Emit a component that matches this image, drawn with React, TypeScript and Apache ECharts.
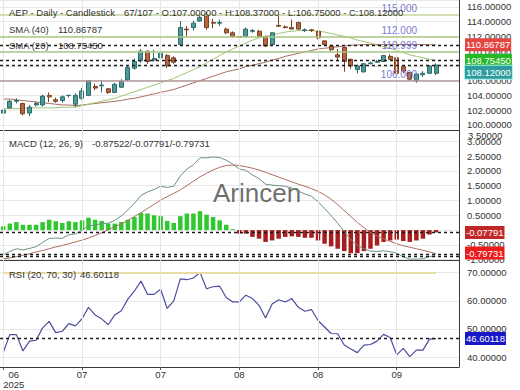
import React, { useEffect, useRef } from "react";
import * as echarts from "echarts";

const dates: string[] = [
  "2025-06-13", "2025-06-16", "2025-06-17", "2025-06-18", "2025-06-20", "2025-06-23", "2025-06-24", "2025-06-25", "2025-06-26", "2025-06-27",
  "2025-06-30", "2025-07-01", "2025-07-02", "2025-07-03", "2025-07-07", "2025-07-08", "2025-07-09", "2025-07-10", "2025-07-11", "2025-07-14",
  "2025-07-15", "2025-07-16", "2025-07-17", "2025-07-18", "2025-07-21", "2025-07-22", "2025-07-23", "2025-07-24", "2025-07-25", "2025-07-28",
  "2025-07-29", "2025-07-30", "2025-07-31", "2025-08-01", "2025-08-04", "2025-08-05", "2025-08-06", "2025-08-07", "2025-08-08", "2025-08-11",
  "2025-08-12", "2025-08-13", "2025-08-14", "2025-08-15", "2025-08-18", "2025-08-19", "2025-08-20", "2025-08-21", "2025-08-22", "2025-08-25",
  "2025-08-26", "2025-08-27", "2025-08-28", "2025-08-29", "2025-09-02", "2025-09-03", "2025-09-04", "2025-09-05", "2025-09-08", "2025-09-09",
  "2025-09-10", "2025-09-11", "2025-09-12", "2025-09-15", "2025-09-16", "2025-09-17", "2025-09-18",
];
const emptySlots: string[] = ["2025-09-19", "2025-09-22", "2025-09-23"];

const opens = [
  101.6, 102.3, 103.2, 102.9, 101.6, 102.7, 102.7, 104.0, 103.4, 103.3,
  103.98, 102.8, 103.6, 104.0, 105.2, 105.3, 104.9, 104.4, 105.1, 106.1,
  107.7, 108.7, 110.0, 108.8, 109.1, 109.4, 109.1, 110.9, 113.0, 113.2,
  114.1, 115.0, 113.9, 113.8, 113.0, 112.5, 112.0, 112.0, 112.7, 112.7,
  112.0, 110.9, 113.5, 113.3, 113.2, 113.9, 112.8, 112.9, 112.7, 111.4,
  110.7, 109.5, 110.5, 108.9, 107.5, 107.2, 108.3, 108.5, 108.6, 109.3,
  109.1, 107.9, 107.1, 106.0, 106.8, 107.0, 107.0,
];
const highs = [
  102.4, 103.4, 103.6, 103.0, 102.7, 103.2, 104.1, 104.4, 103.7, 104.0,
  104.05, 104.3, 105.0, 106.1, 105.6, 106.1, 105.0, 105.7, 106.2, 108.1,
  109.0, 110.3, 110.1, 110.2, 110.0, 109.6, 109.3, 114.1, 113.4, 114.1,
  114.9, 115.3, 114.4, 114.3, 113.2, 112.7, 112.1, 113.2, 113.0, 112.9,
  112.1, 112.6, 115.0, 113.5, 114.3, 114.0, 113.1, 113.0, 112.8, 111.5,
  110.9, 110.3, 110.6, 109.0, 108.2, 108.4, 108.6, 108.8, 109.5, 109.6,
  109.2, 108.0, 107.2, 107.0, 107.3, 108.1, 108.37,
];
const lows = [
  101.1, 102.2, 102.9, 101.3, 101.2, 102.5, 102.5, 103.1, 103.0, 103.0,
  103.7, 102.4, 103.4, 103.9, 104.7, 104.4, 104.2, 104.3, 105.0, 105.9,
  107.5, 108.4, 108.3, 108.6, 108.8, 107.7, 108.3, 110.8, 112.0, 112.8,
  114.0, 112.9, 113.1, 113.4, 112.3, 111.8, 111.0, 111.9, 112.5, 111.9,
  110.6, 110.8, 113.3, 113.1, 113.0, 112.9, 112.6, 112.6, 111.6, 110.8,
  110.0, 108.6, 107.2, 107.6, 107.0, 107.1, 108.2, 108.4, 108.5, 108.8,
  106.9, 107.0, 106.0, 105.7, 106.5, 106.9, 106.75,
];
const closes = [
  102.0, 103.2, 103.3, 101.5, 102.4, 102.9, 103.9, 103.8, 103.2, 103.8,
  104.02, 104.0, 104.6, 106.0, 105.0, 105.4, 104.4, 105.5, 105.9, 107.8,
  108.6, 110.0, 108.6, 109.0, 109.7, 108.0, 108.5, 113.2, 112.9, 113.8,
  114.6, 113.2, 113.8, 113.9, 112.5, 112.0, 111.9, 113.0, 112.8, 112.0,
  110.7, 112.5, 113.4, 113.2, 113.0, 113.0, 112.9, 112.8, 111.8, 110.9,
  110.2, 109.2, 108.6, 108.0, 108.0, 108.3, 108.4, 108.6, 109.4, 108.9,
  107.0, 107.3, 106.2, 106.9, 107.0, 108.0, 108.12,
];
const sma40 = [
  103.5, 103.5, 103.4, 103.3, 103.2, 103.1, 103.0, 102.9, 102.8, 102.7,
  102.7, 102.6, 102.7, 102.8, 102.9, 103.0, 103.1, 103.2, 103.3, 103.5,
  103.6, 103.8, 104.0, 104.2, 104.4, 104.6, 104.8, 105.1, 105.4, 105.7,
  106.0, 106.3, 106.6, 106.9, 107.2, 107.4, 107.6, 107.9, 108.1, 108.3,
  108.5, 108.8, 109.0, 109.3, 109.5, 109.7, 109.9, 110.1, 110.3, 110.4,
  110.5, 110.6, 110.7, 110.8, 110.85, 110.9, 110.9, 110.9, 110.9, 110.9,
  110.9, 110.9, 110.9, 110.9, 110.9, 110.88, 110.86787,
];
const sma20 = [
  102.2, 102.2, 102.2, 102.2, 102.3, 102.3, 102.3, 102.3, 102.3, 102.4,
  102.4, 102.4, 102.6, 102.8, 103.0, 103.2, 103.4, 103.6, 103.9, 104.2,
  104.5, 104.8, 105.1, 105.4, 105.7, 106.0, 106.3, 106.7, 107.1, 107.5,
  107.9, 108.4, 108.9, 109.4, 109.9, 110.3, 110.7, 111.1, 111.5, 111.8,
  112.0, 112.2, 112.4, 112.6, 112.7, 112.8, 112.8, 112.8, 112.7, 112.6,
  112.4, 112.2, 112.0, 111.8, 111.5, 111.3, 111.1, 110.8, 110.6, 110.4,
  110.1, 109.8, 109.5, 109.3, 109.1, 108.9, 108.7545,
];
const macdHist = [
  0.13, 0.22, 0.27, 0.18, 0.18, 0.18, 0.27, 0.35, 0.30, 0.24,
  0.30, 0.27, 0.33, 0.42, 0.35, 0.31, 0.22, 0.22, 0.27, 0.35,
  0.44, 0.58, 0.56, 0.50, 0.47, 0.31, 0.24, 0.47, 0.56, 0.56,
  0.64, 0.52, 0.44, 0.33, 0.18, 0.03, -0.12, -0.12, -0.23, -0.29,
  -0.40, -0.35, -0.29, -0.23, -0.21, -0.23, -0.26, -0.26, -0.35, -0.46,
  -0.55, -0.63, -0.71, -0.78, -0.78, -0.71, -0.63, -0.52, -0.40, -0.35,
  -0.32, -0.37, -0.40, -0.35, -0.29, -0.15, -0.07791,
];
const macdSignal = [
  -0.97, -0.94, -0.90, -0.85, -0.80, -0.74, -0.69, -0.63, -0.57, -0.52,
  -0.46, -0.40, -0.34, -0.27, -0.18, -0.09, 0.01, 0.11, 0.21, 0.33,
  0.46, 0.59, 0.73, 0.87, 1.01, 1.13, 1.24, 1.36, 1.50, 1.65,
  1.80, 1.92, 2.03, 2.12, 2.18, 2.20, 2.18, 2.14, 2.09, 2.03,
  1.95, 1.87, 1.79, 1.71, 1.63, 1.55, 1.48, 1.40, 1.31, 1.19,
  1.04, 0.86, 0.66, 0.46, 0.26, 0.08, -0.08, -0.20, -0.30, -0.38,
  -0.46, -0.53, -0.58, -0.63, -0.68, -0.74, -0.79731,
];
const macdLine = [
  -0.84, -0.72, -0.63, -0.67, -0.62, -0.56, -0.42, -0.28, -0.27, -0.28,
  -0.16, -0.13, -0.01, 0.15, 0.17, 0.22, 0.23, 0.33, 0.48, 0.68,
  0.90, 1.17, 1.29, 1.37, 1.48, 1.44, 1.48, 1.83, 2.06, 2.21,
  2.44, 2.44, 2.47, 2.45, 2.36, 2.23, 2.06, 2.02, 1.86, 1.74,
  1.55, 1.52, 1.50, 1.48, 1.42, 1.32, 1.22, 1.14, 0.96, 0.73,
  0.49, 0.23, -0.05, -0.32, -0.52, -0.63, -0.71, -0.72, -0.70, -0.73,
  -0.78, -0.90, -0.98, -0.98, -0.97, -0.89, -0.87522,
];
const rsi = [
  41.7, 48.0, 48.0, 42.2, 45.7, 46.0, 50.4, 52.7, 48.7, 49.2,
  51.9, 51.1, 53.6, 57.7, 55.0, 53.6, 51.5, 55.0, 56.5, 60.6,
  63.5, 67.0, 62.3, 62.3, 64.1, 57.3, 60.0, 67.8, 67.5, 68.1,
  70.1, 64.3, 65.0, 65.2, 61.2, 59.6, 59.6, 62.0, 60.8, 58.4,
  53.9, 58.9, 60.4, 59.6, 60.8, 57.7, 56.3, 56.9, 53.0, 50.7,
  48.4, 48.3, 44.3, 42.9, 41.6, 44.3, 44.5, 45.7, 48.1, 47.0,
  40.8, 43.1, 40.2, 42.5, 42.5, 46.4, 46.60118,
];

const levelValues = [115, 112, 109.95, 106];
const levelTexts = ["115.000", "112.000", "110.999", "106.000"];
const levelTags = ["L1", "L1", "L2", "L3"];
const rsiUpper = 70;
const macdTopTick = "3.50000";
const tickStep = 12;

const levelColors = ["#c4d69d", "#abc985", "#a9c887", "#b39898"];
const FONT = "'Liberation Sans', Arial, sans-serif";

export default function App() {
  const ref = useRef<HTMLDivElement>(null);

  useEffect(() => {
    const el = ref.current;
    if (!el) return;
    const chart = echarts.init(el, null, { renderer: "svg" });
    const cats = dates.concat(emptySlots);
    const n = dates.length;
    const last = n - 1;

    const candleData = dates.map((_, i) => [opens[i], closes[i], lows[i], highs[i]]);
    const vLines = dates
      .map((d, i) => ({ d, i }))
      .filter((o) => o.i % tickStep === 0)
      .map((o) => ({
        xAxis: o.d,
        lineStyle: { color: "#e6e6e6", width: 1, type: "solid" },
        label: { show: false },
      }));
    const dashed = (v: number) => ({
      yAxis: v,
      lineStyle: { color: "#1c1c1c", width: 1.3, type: [3, 3] },
      label: { show: false },
    });

    const levelLines: any[] = [];
    levelValues.forEach((v, k) => {
      levelLines.push({
        yAxis: v,
        lineStyle: { color: levelColors[k], width: 1.6, type: "solid" },
        label: {
          show: true,
          position: "insideEndTop",
          formatter: levelTexts[k],
          distance: [42, 1],
          color: "#7b7bd0",
          fontSize: 10,
          fontFamily: FONT,
        },
      });
      levelLines.push({
        yAxis: v,
        lineStyle: { opacity: 0 },
        label: {
          show: true,
          position: "insideStartTop",
          formatter: levelTags[k],
          distance: [6, 3],
          color: "#7b7bd0",
          fontSize: 11,
          fontFamily: FONT,
        },
      });
    });

    const axisFont = { color: "#333", fontSize: 9.5, fontFamily: FONT };
    const tickShow = (i: number) => i % tickStep === 0 && i < n;

    const xAxes = [0, 1, 2].map((g) => ({
      type: "category",
      gridIndex: g,
      data: cats,
      boundaryGap: true,
      axisLine: { show: true, onZero: false, lineStyle: { color: "#3a3a3a", width: 1 } },
      axisTick: {
        show: g === 2,
        alignWithLabel: true,
        interval: tickShow,
        length: 3,
        lineStyle: { color: "#555" },
      },
      axisLabel:
        g === 2
          ? {
              show: true,
              interval: tickShow,
              alignMinLabel: "left",
              margin: 2,
              lineHeight: 10.5,
              ...axisFont,
              formatter: (value: string, index: number) =>
                index === 0
                  ? `{f|${value.slice(5, 7)}}\n{f|${value.slice(0, 4)}}`
                  : value.slice(5, 7),
              rich: {
                f: { width: 21, align: "center", lineHeight: 10.5, ...axisFont },
              },
            }
          : { show: false },
      splitLine: { show: false },
    }));

    const yAxis = (g: number, min: number, max: number, split: number) => ({
      type: "value",
      gridIndex: g,
      position: "right",
      min,
      max,
      splitNumber: split,
      axisLine: { show: true, onZero: false, lineStyle: { color: "#3a3a3a", width: 1 } },
      axisTick: { show: false },
      axisLabel: {
        ...axisFont,
        margin: 8,
        showMinLabel: false,
        showMaxLabel: false,
        formatter: (v: number) => v.toFixed(5),
      },
      splitLine: { show: true, lineStyle: { color: "#e8e8e8", width: 1 } },
    });

    const option: any = {
      animation: false,
      backgroundColor: "#ffffff",
      grid: [
        { left: 0, top: 0, width: 459, height: 130 },
        { left: 0, top: 130, width: 459, height: 130 },
        { left: 0, top: 260, width: 459, height: 109 },
      ],
      xAxis: xAxes,
      yAxis: [yAxis(0, 99.3, 116.95, 9), yAxis(1, -1.01, 3.38, 9), yAxis(2, 36.5, 74.5, 4)],
      series: [
        {
          type: "candlestick",
          name: "AEP",
          xAxisIndex: 0,
          yAxisIndex: 0,
          data: candleData,
          barWidth: 4.5,
          itemStyle: {
            color: "#4f9898",
            color0: "#b2653f",
            borderColor: "#2f6c6c",
            borderColor0: "#7a4222",
            borderWidth: 1,
          },
          markLine: {
            silent: true,
            symbol: ["none", "none"],
            label: { show: false },
            data: [
              ...vLines,
              ...levelLines,
              dashed(sma40[last]),
              dashed(sma20[last]),
              dashed(closes[last]),
            ],
          },
          z: 3,
        },
        {
          type: "line",
          name: "SMA (40)",
          xAxisIndex: 0,
          yAxisIndex: 0,
          data: sma40,
          showSymbol: false,
          symbol: "none",
          lineStyle: { color: "#a86d60", width: 1 },
          z: 2,
        },
        {
          type: "line",
          name: "SMA (20)",
          xAxisIndex: 0,
          yAxisIndex: 0,
          data: sma20,
          showSymbol: false,
          symbol: "none",
          lineStyle: { color: "#9cc476", width: 1 },
          z: 2,
        },
        {
          type: "bar",
          name: "Histogram",
          xAxisIndex: 1,
          yAxisIndex: 1,
          barWidth: 4.5,
          data: macdHist.map((v) => ({
            value: v,
            itemStyle: { color: v >= 0 ? "#30c830" : "#a81e1e" },
          })),
          markLine: {
            silent: true,
            symbol: ["none", "none"],
            label: { show: false },
            data: [...vLines, dashed(macdHist[last]), dashed(macdSignal[last]), dashed(macdLine[last])],
          },
        },
        {
          type: "line",
          name: "MACD",
          xAxisIndex: 1,
          yAxisIndex: 1,
          data: macdLine,
          showSymbol: false,
          symbol: "none",
          lineStyle: { color: "#6a927e", width: 1 },
        },
        {
          type: "line",
          name: "Signal",
          xAxisIndex: 1,
          yAxisIndex: 1,
          data: macdSignal,
          showSymbol: false,
          symbol: "none",
          lineStyle: { color: "#ad6e5e", width: 1 },
        },
        {
          type: "line",
          name: "RSI",
          xAxisIndex: 2,
          yAxisIndex: 2,
          data: rsi,
          showSymbol: false,
          symbol: "none",
          lineStyle: { color: "#4c4c9e", width: 1.2 },
          markLine: {
            silent: true,
            symbol: ["none", "none"],
            label: { show: false },
            data: [
              ...vLines,
              [
                {
                  coord: [dates[0], rsiUpper],
                  lineStyle: { color: "#e6dca4", width: 2, type: "solid" },
                  label: { show: false },
                },
                { coord: [dates[last], rsiUpper] },
              ],
              dashed(rsi[last]),
            ],
          },
        },
      ],
    };

    chart.setOption(option);

    const py = (axis: number, v: number) =>
      chart.convertToPixel({ yAxisIndex: axis } as any, v) as unknown as number;

    const txt = (x: number, y: number, text: string, extra: any = {}, z = 50) => ({
      type: "text",
      x,
      y,
      z,
      silent: true,
      style: {
        text,
        fill: "#333",
        font: `9.5px ${FONT}`,
        align: "left",
        verticalAlign: "middle",
        textAlign: "left",
        textVerticalAlign: "middle",
        ...extra,
      },
    });
    const box = (y: number, text: string, bg: string, border?: string) =>
      txt(465, y, text, {
        fill: "#ffffff",
        backgroundColor: bg,
        padding: [2, 1, 1, 1],
        borderColor: border || bg,
        borderWidth: border ? 1 : 0,
      }, 100);

    const ySma40 = py(0, sma40[last]);
    const ySma20 = py(0, sma20[last]);
    let yClose = py(0, closes[last]);
    if (Math.abs(yClose - ySma20) < 12) yClose = ySma20 + (yClose >= ySma20 ? 12 : -12);
    const yHist = py(1, macdHist[last]);
    const ySig = Math.min(py(1, macdSignal[last]), 253);
    const yRsi = py(2, rsi[last]);

    const f5 = (v: number) => v.toFixed(5);
    const header =
      `${n}/107 - O:${f5(opens[last])} - H:${f5(highs[last])} - L:${f5(lows[last])} - C:${f5(closes[last])}`;

    chart.setOption({
      graphic: [
        txt(9, 12.5, "AEP - Daily - Candlestick"),
        txt(124, 12.5, header),
        txt(9, 29, "SMA (40)"),
        txt(58, 29, f5(sma40[last])),
        txt(9, 45.5, "SMA (20)"),
        txt(58, 45.5, f5(sma20[last])),
        txt(9, 143.5, "MACD (12, 26, 9)"),
        txt(92, 143.5, `${f5(macdLine[last])}/${f5(macdHist[last])}/${f5(macdSignal[last])}`),
        txt(9, 274, "RSI (20, 70, 30)"),
        txt(80, 274, f5(rsi[last])),
        txt(213, 193, "Arincen", { fill: "rgba(70,70,70,0.78)", font: `26px ${FONT}` }, 1),
        txt(468, 135, macdTopTick, { fill: "#333" }, 40),
        box(ySma40, f5(sma40[last]), "#e2463f"),
        box(ySma20, f5(sma20[last]), "#27b827"),
        box(yClose, f5(closes[last]), "#2c9c9c", "#a8f0f0"),
        box(yHist, f5(macdHist[last]), "#c02828"),
        box(ySig, f5(macdSignal[last]), "#ec1c1c"),
        box(yRsi, f5(rsi[last]), "#1717c8"),
      ],
    });

    return () => {
      chart.dispose();
    };
  }, []);

  return (
    <div
      ref={ref}
      style={{ position: "fixed", left: 0, top: 0, width: 520, height: 390, background: "#fff" }}
    />
  );
}
